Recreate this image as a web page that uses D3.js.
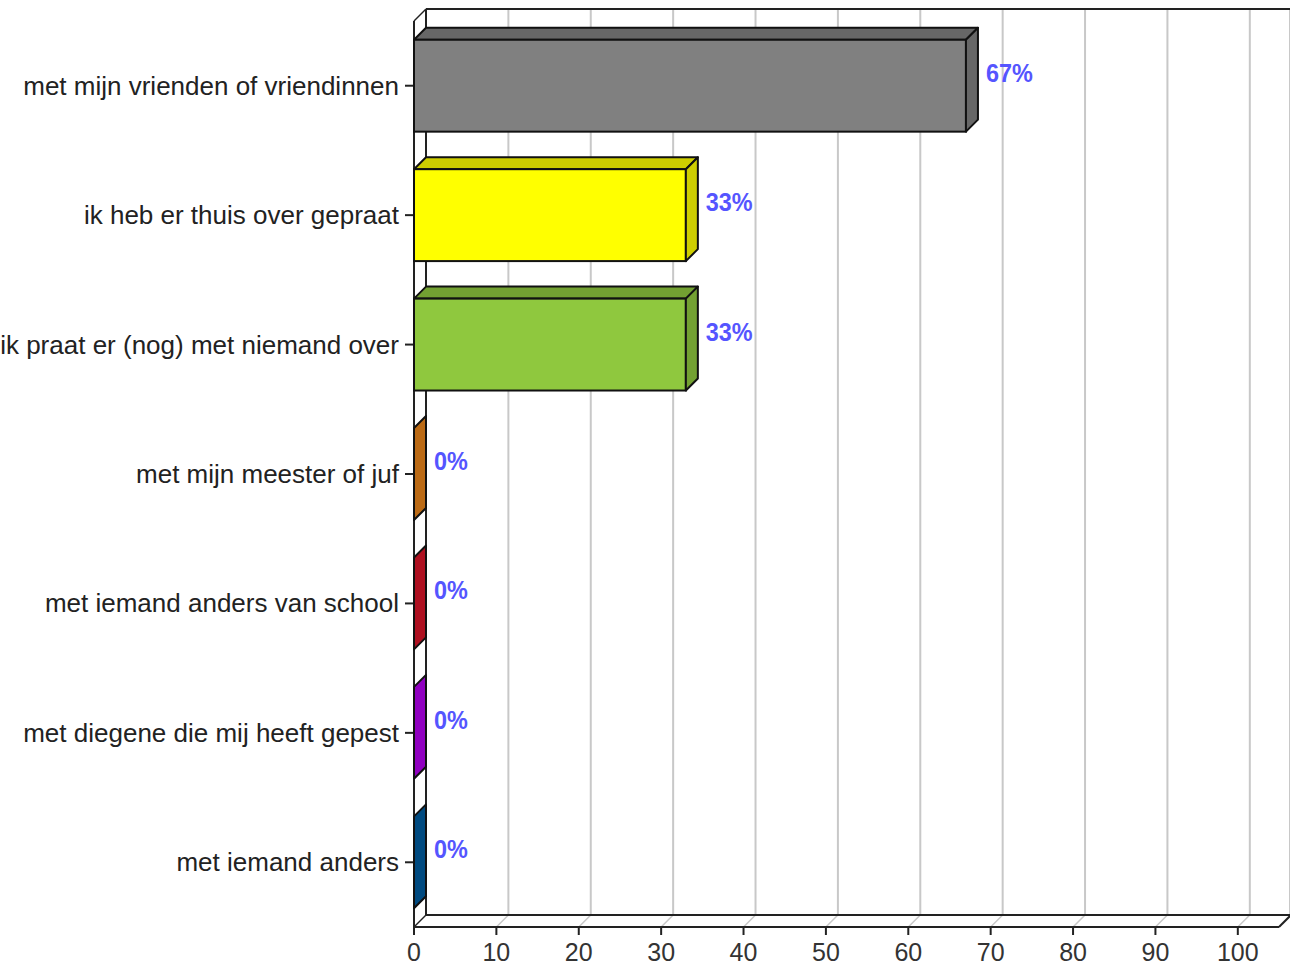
<!DOCTYPE html>
<html><head><meta charset="utf-8">
<script src="https://cdn.jsdelivr.net/npm/d3@7"></script>
<style>html,body{margin:0;padding:0;background:#fff;overflow:hidden}</style>
</head><body>
<svg id="chart" width="1290" height="967"></svg>
<script>
const categories = [
  "met mijn vrienden of vriendinnen",
  "ik heb er thuis over gepraat",
  "ik praat er (nog) met niemand over",
  "met mijn meester of juf",
  "met iemand anders van school",
  "met diegene die mij heeft gepest",
  "met iemand anders"
];
const values = [67, 33, 33, 0, 0, 0, 0];
const valueLabels = ["67%", "33%", "33%", "0%", "0%", "0%", "0%"];
const barColors = ["#808080", "#ffff00", "#8fc83e", "#e8831a", "#d81428", "#b200ee", "#005c9e"];
const tickValues = [0, 10, 20, 30, 40, 50, 60, 70, 80, 90, 100];

(function () {
const svg = d3.select("#chart");
const D = 12; // 3D depth
const x = d3.scaleLinear().domain([0, 105]).range([414, 1279]);
const y = d3.scaleBand().domain(categories).range([21, 927]).paddingInner(0.29).paddingOuter(0.145);
const yTop = 21, yBot = 927;
const x0 = x(0), x1 = x(105);
const line = "#222";

svg.append("rect").attr("x", x0 + D).attr("y", yTop - D).attr("width", x1 - x0).attr("height", yBot - yTop)
  .attr("fill", "#fff");
svg.selectAll(".grid").data(tickValues.filter(v => v > 0)).join("line")
  .attr("x1", d => x(d) + D).attr("x2", d => x(d) + D)
  .attr("y1", yTop - D).attr("y2", yBot - D)
  .attr("stroke", "#c8c8c8").attr("stroke-width", 2);
svg.selectAll(".fgrid").data(tickValues.filter(v => v > 0)).join("line")
  .attr("x1", d => x(d)).attr("x2", d => x(d) + D)
  .attr("y1", yBot).attr("y2", yBot - D)
  .attr("stroke", "#c8c8c8").attr("stroke-width", 1.5);
svg.append("line").attr("x1", x1 + D - 1).attr("x2", x1 + D - 1).attr("y1", yTop - D).attr("y2", yBot - D)
  .attr("stroke", "#c8c8c8").attr("stroke-width", 2);
svg.append("line").attr("x1", x0 + D).attr("x2", x1 + D).attr("y1", yTop - D).attr("y2", yTop - D)
  .attr("stroke", line).attr("stroke-width", 2);
svg.append("line").attr("x1", x0 + D).attr("x2", x1 + D).attr("y1", yBot - D).attr("y2", yBot - D)
  .attr("stroke", line).attr("stroke-width", 2);
svg.append("line").attr("x1", x0).attr("x2", x1).attr("y1", yBot).attr("y2", yBot)
  .attr("stroke", line).attr("stroke-width", 2);
svg.append("line").attr("x1", x1).attr("x2", x1 + D).attr("y1", yBot).attr("y2", yBot - D)
  .attr("stroke", line).attr("stroke-width", 2);
svg.append("line").attr("x1", x0).attr("x2", x0).attr("y1", yTop).attr("y2", yBot).attr("stroke", line).attr("stroke-width", 2);
svg.append("line").attr("x1", x0 + D).attr("x2", x0 + D).attr("y1", yTop - D).attr("y2", yBot - D).attr("stroke", line).attr("stroke-width", 2);
svg.append("line").attr("x1", x0).attr("x2", x0 + D).attr("y1", yTop).attr("y2", yTop - D).attr("stroke", line).attr("stroke-width", 1.5);
svg.append("line").attr("x1", x0).attr("x2", x0 + D).attr("y1", yBot).attr("y2", yBot - D).attr("stroke", line).attr("stroke-width", 1.5);

svg.selectAll(".xt").data(tickValues).join("line")
  .attr("x1", d => x(d)).attr("x2", d => x(d)).attr("y1", yBot).attr("y2", yBot + 8)
  .attr("stroke", line).attr("stroke-width", 2);
svg.selectAll(".xl").data(tickValues).join("text")
  .attr("x", d => x(d)).attr("y", yBot + 34).attr("text-anchor", "middle")
  .attr("font-family", "Liberation Sans, Arial, sans-serif").attr("font-size", 25).attr("fill", "#333")
  .text(d => d);

svg.selectAll(".yt").data(categories).join("line")
  .attr("x1", x0 - 9).attr("x2", x0).attr("y1", d => y(d) + y.bandwidth() / 2).attr("y2", d => y(d) + y.bandwidth() / 2)
  .attr("stroke", line).attr("stroke-width", 2);
svg.selectAll(".yl").data(categories).join("text")
  .attr("x", x0 - 15).attr("y", d => y(d) + y.bandwidth() / 2 + 9).attr("text-anchor", "end")
  .attr("font-family", "Liberation Sans, Arial, sans-serif").attr("font-size", 26).attr("fill", "#222")
  .text(d => d);

const data = categories.map((c, i) => ({c, v: values[i], lab: valueLabels[i], col: barColors[i]}));
const g = svg.append("g");
data.forEach(d => {
  const by = y(d.c), bh = y.bandwidth(), bx = x(d.v);
  const side = d3.color(d.col).darker(0.6).toString();
  if (d.v > 0) {
    g.append("path").attr("d", `M${x0},${by} L${x0 + D},${by - D} L${bx + D},${by - D} L${bx},${by} Z`)
      .attr("fill", side).attr("stroke", "#111").attr("stroke-width", 2).attr("stroke-linejoin", "round");
    g.append("rect").attr("x", x0).attr("y", by).attr("width", bx - x0).attr("height", bh)
      .attr("fill", d.col).attr("stroke", "#111").attr("stroke-width", 2);
  }
  g.append("path").attr("d", `M${bx},${by} L${bx + D},${by - D} L${bx + D},${by + bh - D} L${bx},${by + bh} Z`)
    .attr("fill", side).attr("stroke", "#111").attr("stroke-width", 2).attr("stroke-linejoin", "round");
  const tx = bx + 20, ty = by + bh / 2 - 4;
  g.append("text").attr("transform", `translate(${tx},${ty}) scale(0.9,1)`)
    .attr("font-family", "Liberation Sans Narrow, Arial Narrow, Liberation Sans, sans-serif").attr("font-weight", "bold")
    .attr("font-size", 26).attr("fill", "#5555ff").text(d.lab);
});
})();
</script>
</body></html>
